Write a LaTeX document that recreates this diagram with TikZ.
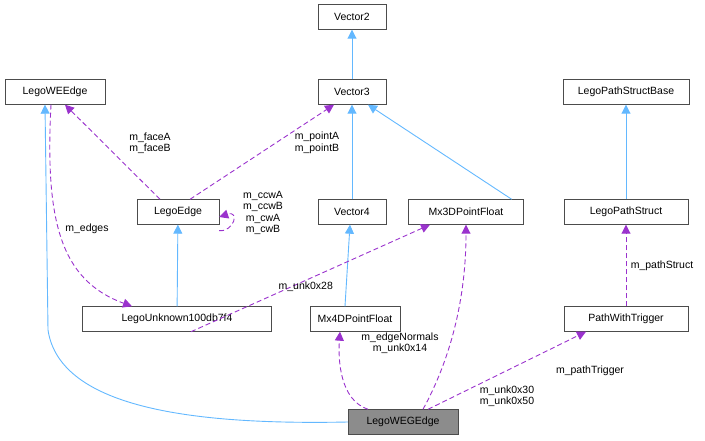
\documentclass[tikz,border=0pt]{standalone}
\usepackage{fontspec}
\setmainfont{Liberation Sans}
\usetikzlibrary{arrows.meta}
\definecolor{ib}{HTML}{63B8FF}
\definecolor{cp}{HTML}{9A32CD}
\begin{document}
\begin{tikzpicture}[x=1pt,y=-1pt,font=\fontsize{10.5}{12}\selectfont,
 box/.style={draw=black!70,fill=white,minimum height=25pt,inner sep=3pt,anchor=center},
 inh/.style={draw=ib,line width=0.9pt,-{Triangle[open,length=9pt,width=9pt,fill=ib]}},
 col/.style={draw=cp,line width=0.9pt,dash pattern=on 5pt off 3pt,-{Triangle[length=9pt,width=9pt,fill=cp]}},
 lab/.style={align=center,inner sep=1pt,font=\fontsize{10.5}{11.5}\selectfont}]
\useasboundingbox (0,0) rectangle (705,441);
\node[box,minimum width=68pt] (v2) at (352,17) {Vector2};
\node[box,minimum width=68pt] (v3) at (352,92) {Vector3};
\node[box,minimum width=100pt] (we) at (55,92) {LegoWEEdge};
\node[box,minimum width=126pt] (psb) at (626,92) {LegoPathStructBase};
\node[box,minimum width=82pt] (le) at (178,212) {LegoEdge};
\node[box,minimum width=68pt] (v4) at (352,212) {Vector4};
\node[box,minimum width=115pt] (m3) at (466,212) {Mx3DPointFloat};
\node[box,minimum width=124pt] (ps) at (626,212) {LegoPathStruct};
\node[box,minimum width=189pt] (lu) at (177,319) {LegoUnknown100db7f4};
\node[box,minimum width=90pt] (m4) at (355,319) {Mx4DPointFloat};
\node[box,minimum width=124pt] (pt) at (626,319) {PathWithTrigger};
\node[box,minimum width=110pt,fill=black!45] (g) at (403,422) {LegoWEGEdge};
\draw[inh] (v3) -- (v2);
\draw[inh] (v4) -- (v3);
\draw[inh] (m3.north east)++(-12,0) -- ([xshift=16pt]v3.south);
\draw[inh] (ps) -- (psb);
\draw[inh] (lu) -- (le);
\draw[inh] ([xshift=-10pt]m4.north) -- ([xshift=-2pt]v4.south);
\draw[inh] (g.west) .. controls (200,425) and (60,410) .. (48,330) -- ([xshift=-10pt]we.south);
\draw[col] ([xshift=-18pt]le.north) -- ([xshift=10pt]we.south);
\node[lab] (lfa) at (150,143) {m\_faceA\\m\_faceB};
\draw[col] ([xshift=12pt]le.north) -- ([xshift=-18pt]v3.south);
\node[lab] (lpa) at (317,143) {m\_pointA\\m\_pointB};
\draw[col] ([yshift=-6pt]le.south east) .. controls (234,232) and (240,210) .. ([yshift=-5pt]le.east);
\node[lab,anchor=west] (cc) at (242,213) {m\_ccwA\\m\_ccwB\\m\_cwA\\m\_cwB};
\draw[col] ([xshift=-4pt]we.south) .. controls (45,220) and (60,280) .. node[lab,pos=0.45,xshift=28pt] {m\_edges} ([xshift=-45pt]lu.north);
\draw[col] ([xshift=14pt]lu.south) -- node[lab,pos=0.48,yshift=-6pt] {m\_unk0x28} ([xshift=-36pt]m3.south);
\draw[col] ([xshift=20pt]g.north) .. controls (450,360) and (466,300) .. (m3.south);
\node[lab] (l30) at (507,396) {m\_unk0x30\\m\_unk0x50};
\draw[col] ([xshift=-35pt]g.north) .. controls (340,400) and (338,360) .. ([xshift=-15pt]m4.south);
\node[lab] (len) at (400,343) {m\_edgeNormals\\m\_unk0x14};
\draw[col] ([xshift=25pt]g.north) -- ([xshift=-40pt]pt.south);
\node[lab] (lpt) at (590,371) {m\_pathTrigger};
\draw[col] (pt) -- node[lab,xshift=36pt] {m\_pathStruct} (ps);
\end{tikzpicture}
\end{document}
